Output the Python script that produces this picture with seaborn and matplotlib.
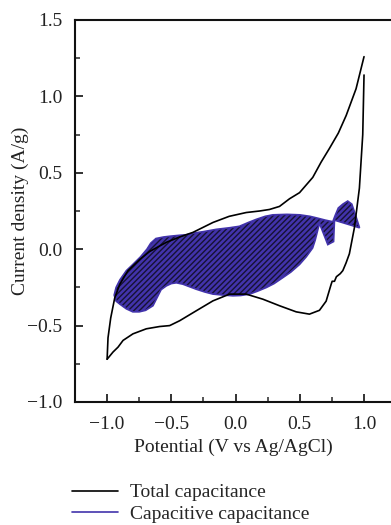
import numpy as np
import pandas as pd
import matplotlib
matplotlib.use("Agg")
import matplotlib.pyplot as plt
import seaborn as sns
from matplotlib.lines import Line2D

# ---- data ----
anodic_x = [-1.0, -0.993, -0.972, -0.941, -0.902, -0.837, -0.746, -0.669, -0.539, -0.435,
            -0.332, -0.176, -0.05, 0.083, 0.187, 0.264, 0.342, 0.42, 0.498, 0.601,
            0.666, 0.731, 0.80, 0.861, 0.938, 1.0]
anodic_y = [-0.72, -0.58, -0.45, -0.32, -0.23, -0.14, -0.067, -0.015, 0.045, 0.08,
            0.11, 0.175, 0.215, 0.24, 0.25, 0.26, 0.28, 0.33, 0.37, 0.47,
            0.57, 0.66, 0.76, 0.875, 1.05, 1.26]

cathodic_x = [1.0, 0.99, 0.964, 0.925, 0.886, 0.86, 0.835, 0.815, 0.80, 0.785, 0.77,
              0.752, 0.744, 0.705, 0.653, 0.575, 0.472, 0.342, 0.212, 0.083, -0.047,
              -0.176, -0.306, -0.435, -0.513, -0.591, -0.695, -0.799, -0.876, -0.915,
              -0.954, -1.0]
cathodic_y = [1.14, 0.75, 0.40, 0.14, -0.03, -0.09, -0.14, -0.16, -0.17, -0.18, -0.21,
              -0.21, -0.23, -0.34, -0.40, -0.425, -0.41, -0.37, -0.327, -0.294, -0.294,
              -0.338, -0.403, -0.468, -0.50, -0.506, -0.521, -0.554, -0.597, -0.641,
              -0.673, -0.72]

cap_x = [-0.945, -0.93, -0.90, -0.85, -0.80, -0.74, -0.69, -0.66, -0.62, -0.56, -0.51,
         -0.45, -0.38, -0.33, -0.25, -0.15, -0.05, 0.03, 0.10, 0.16, 0.23, 0.29, 0.40,
         0.50, 0.58, 0.63, 0.70, 0.757,
         0.775, 0.80, 0.835, 0.873, 0.905, 0.935, 0.965, 0.77,
         0.763, 0.718, 0.653,
         0.62, 0.60, 0.55, 0.498, 0.43, 0.368, 0.30, 0.239, 0.17, 0.109, 0.04, -0.021,
         -0.10, -0.176, -0.24, -0.306, -0.36, -0.41, -0.461, -0.50, -0.539, -0.58,
         -0.643, -0.70, -0.75, -0.80, -0.851, -0.90, -0.93]
cap_y = [-0.30, -0.25, -0.20, -0.14, -0.10, -0.05, 0.00, 0.04, 0.07, 0.08, 0.085,
         0.09, 0.095, 0.105, 0.115, 0.13, 0.14, 0.15, 0.175, 0.195, 0.215, 0.225, 0.228,
         0.225, 0.215, 0.205, 0.19, 0.18,
         0.22, 0.27, 0.295, 0.315, 0.295, 0.22, 0.14, 0.19,
         0.05, 0.03, 0.17,
         0.06, 0.008, -0.05, -0.10, -0.15, -0.186, -0.225, -0.251, -0.275, -0.294, -0.303,
         -0.305, -0.30, -0.294, -0.28, -0.262, -0.245, -0.229, -0.22, -0.225, -0.24,
         -0.265, -0.37, -0.40, -0.41, -0.41, -0.39, -0.36, -0.34]

x_ticks = [-1.0, -0.5, 0.0, 0.5, 1.0]
y_ticks = [-1.0, -0.5, 0.0, 0.5, 1.0, 1.5]
series_labels = ["Total capacitance", "Capacitive capacitance"]
x_label = "Potential (V vs Ag/AgCl)"
y_label = "Current density (A/g)"

# ---- style ----
sns.set_style("white")
plt.rcParams["font.family"] = ["Liberation Serif", "DejaVu Serif"]
plt.rcParams["axes.unicode_minus"] = True
plt.rcParams["hatch.linewidth"] = 1.0

blue = "#4233ab"
hatch_col = "#161233"
txt = "#222222"
fs = 14

fig = plt.figure(figsize=(3.91, 5.25), dpi=100)
ax = fig.add_axes([75 / 391, 1 - 402 / 525, 1 - 75 / 391, (402 - 20) / 525])

# capacitive region (hatched polygon)
ax.fill(cap_x, cap_y, facecolor=blue, edgecolor=hatch_col, hatch="//////", linewidth=0, zorder=2)
ax.fill(cap_x, cap_y, facecolor="none", edgecolor=blue, linewidth=1.2, zorder=3)

# total capacitance loop
df_a = pd.DataFrame({"x": anodic_x, "y": anodic_y})
df_c = pd.DataFrame({"x": cathodic_x, "y": cathodic_y})
sns.lineplot(data=df_a, x="x", y="y", sort=False, color="black", linewidth=1.2, ax=ax, zorder=4)
sns.lineplot(data=df_c, x="x", y="y", sort=False, color="black", linewidth=1.2, ax=ax, zorder=4)

ax.set_xlim(-1.25, 1.21)
ax.set_ylim(-1.0, 1.5)
ax.set_xticks(x_ticks)
ax.set_yticks(y_ticks)
ax.set_xticks([-0.75, -0.25, 0.25, 0.75], minor=True)
ax.set_yticks([-0.75, -0.25, 0.25, 0.75, 1.25], minor=True)
ax.set_xticklabels([f"{v:.1f}".replace("-", "\u2212") for v in x_ticks])
ax.set_yticklabels([f"{v:.1f}".replace("-", "\u2212") for v in y_ticks])
ax.tick_params(axis="both", which="major", direction="in", length=6, width=1.3,
               labelsize=fs, colors=txt, left=True, bottom=True)
ax.tick_params(axis="x", which="major", pad=10)
ax.tick_params(axis="y", which="major", pad=9)
ax.tick_params(axis="both", which="minor", direction="in", length=3.5, width=1.1,
               left=True, bottom=True)
ax.set_xlabel(x_label, fontsize=fs, color=txt, labelpad=4)
ax.set_ylabel(y_label, fontsize=fs, color=txt, labelpad=-1)
for s in ["left", "bottom", "top"]:
    ax.spines[s].set_visible(True)
    ax.spines[s].set_linewidth(1.5)
    ax.spines[s].set_color("#111111")
ax.spines["right"].set_visible(False)

handles = [Line2D([], [], color="black", linewidth=1.2),
           Line2D([], [], color=blue, linewidth=1.2)]
fig.legend(handles, series_labels, loc="upper left", bbox_to_anchor=(64 / 391, 1 - 476 / 525),
           frameon=False, fontsize=fs, handlelength=2.4, handletextpad=0.6,
           labelspacing=0.2, borderaxespad=0)

fig.savefig("out.png", dpi=100)
